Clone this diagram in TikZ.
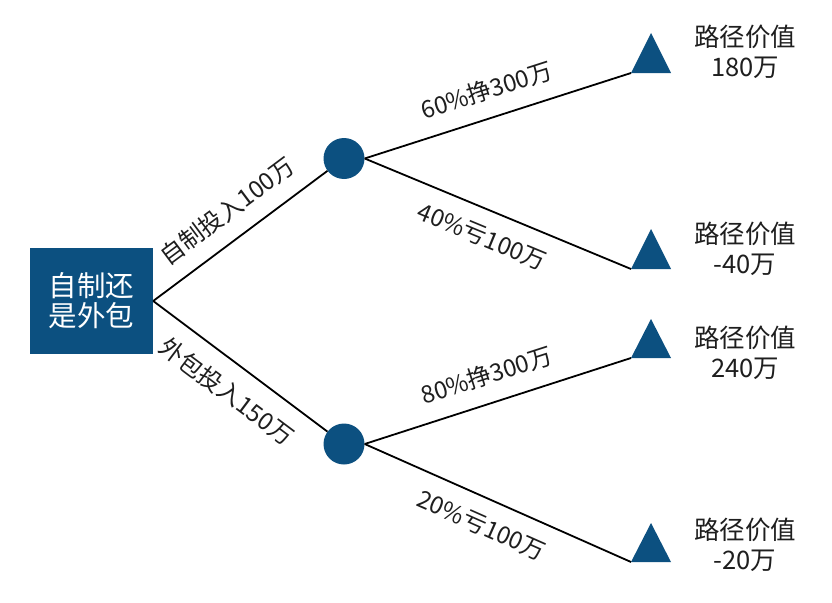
\documentclass[tikz,border=0pt]{standalone}
\usepackage{fontspec}
\setmainfont{Noto Sans CJK SC}
\usetikzlibrary{shapes.geometric}
\definecolor{navy}{RGB}{12,80,128}
\definecolor{ink}{RGB}{30,30,30}
\begin{document}
\begin{tikzpicture}[x=1pt,y=-1pt,
 decbox/.style={rectangle,fill=navy,draw=none,minimum width=123pt,minimum height=106pt,inner sep=0pt,text=white,font=\fontsize{28.5}{30}\selectfont,align=center},
 chance/.style={circle,fill=navy,minimum size=41pt,inner sep=0pt},
 endtri/.style={fill=navy},
 branch/.style={draw=black,line width=1.8pt},
 elabel/.style={sloped,font=\fontsize{24}{26}\selectfont,text=ink,inner sep=0pt},
 vlabel/.style={align=center,font=\fontsize{25.5}{30}\selectfont,text=ink,inner sep=0pt}]
\useasboundingbox (0,0) rectangle (832,602);
% decision box
\node[decbox] (box) at (91.5,301) {自制还\\是外包};
% chance nodes
\node[chance] (c1) at (344,158.5) {};
\node[chance] (c2) at (344,444) {};
% end triangles
\fill[endtri] (631,73) -- (651,33) -- (671,73) -- cycle;
\fill[endtri] (631,269) -- (651,229) -- (671,269) -- cycle;
\fill[endtri] (631,358) -- (651,319) -- (671,358) -- cycle;
\fill[endtri] (631,562) -- (651,523) -- (671,562) -- cycle;
\coordinate (t1) at (631,73);
\coordinate (t2) at (631,269);
\coordinate (t3) at (631,358);
\coordinate (t4) at (631,562);
% branches
\draw[branch] (box.east) -- (c1) node[elabel,pos=0.52,above=16pt] {自制投入100万};
\draw[branch] (box.east) -- (c2) node[elabel,pos=0.52,below=16pt] {外包投入150万};
\draw[branch] (c1.east) -- (t1) node[elabel,pos=0.49,above=16pt] {60\%挣300万};
\draw[branch] (c1.east) -- (t2) node[elabel,pos=0.48,below=16pt] {40\%亏100万};
\draw[branch] (c2.east) -- (t3) node[elabel,pos=0.49,above=16pt] {80\%挣300万};
\draw[branch] (c2.east) -- (t4) node[elabel,pos=0.48,below=16pt] {20\%亏100万};
% values
\node[vlabel] (v1) at (745,51.5) {路径价值\\180万};
\node[vlabel] (v2) at (745,248.5) {路径价值\\-40万};
\node[vlabel] (v3) at (745,352.5) {路径价值\\240万};
\node[vlabel] (v4) at (745,545) {路径价值\\-20万};
\end{tikzpicture}
\end{document}
